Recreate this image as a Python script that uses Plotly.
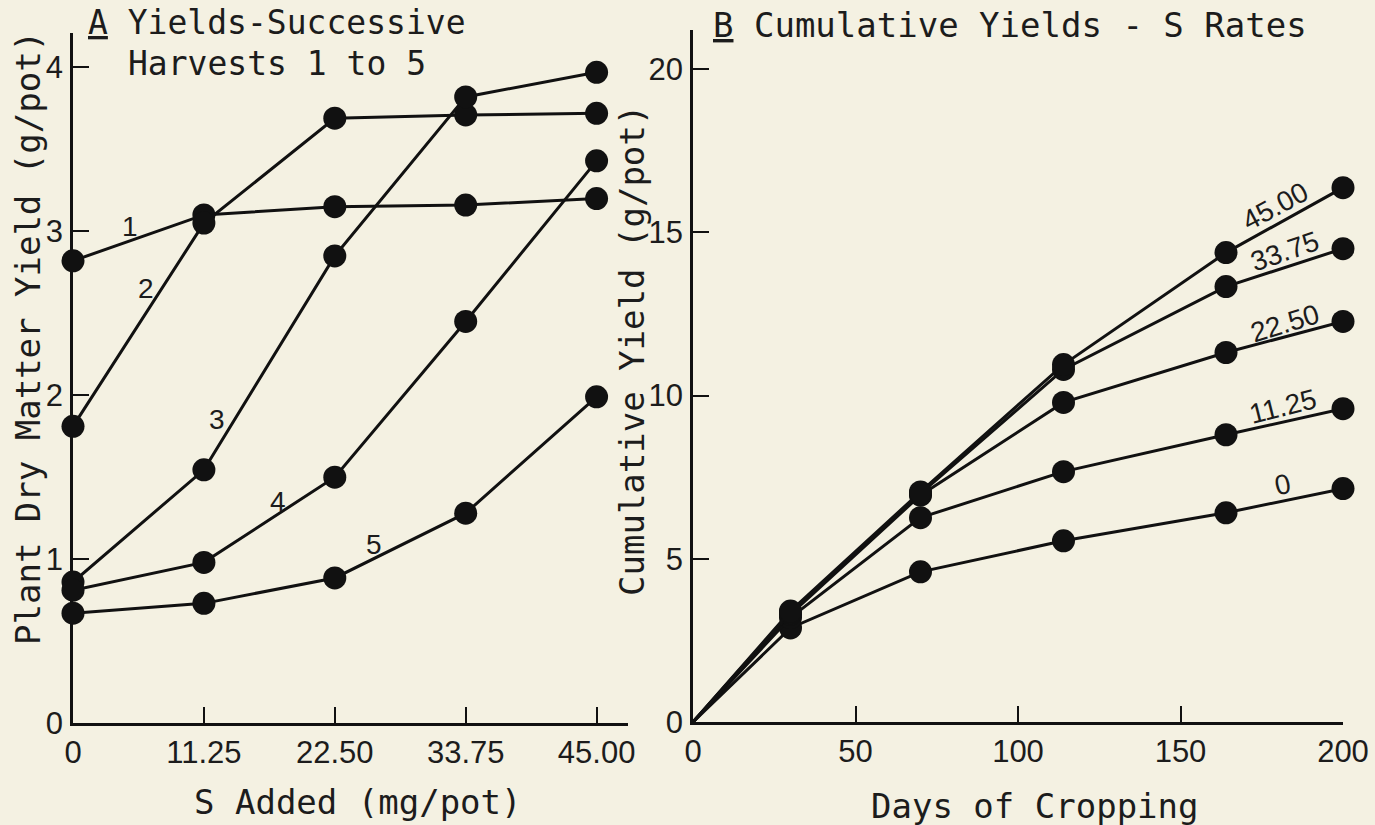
import plotly.graph_objects as go

# ---------------- data ----------------
s_added = [0, 11.25, 22.50, 33.75, 45.00]
harvest_names = ["1", "2", "3", "4", "5"]
harvest_1 = [2.82, 3.10, 3.15, 3.16, 3.20]
harvest_2 = [1.81, 3.05, 3.69, 3.71, 3.72]
harvest_3 = [0.86, 1.545, 2.85, 3.82, 3.97]
harvest_4 = [0.81, 0.98, 1.50, 2.45, 3.43]
harvest_5 = [0.67, 0.73, 0.885, 1.28, 1.99]
harvest_label_x = [4.9, 6.3, 12.4, 17.6, 25.9]
harvest_label_y = [3.03, 2.65, 1.85, 1.35, 1.09]

days = [0, 30, 70, 114, 164, 200]
rate_names = ["0", "11.25", "22.50", "33.75", "45.00"]
cum_0 = [0, 2.88, 4.60, 5.55, 6.41, 7.15]
cum_1125 = [0, 3.20, 6.26, 7.67, 8.80, 9.60]
cum_2250 = [0, 3.30, 6.95, 9.79, 11.32, 12.27]
cum_3375 = [0, 3.35, 7.00, 10.80, 13.34, 14.50]
cum_4500 = [0, 3.40, 7.05, 10.95, 14.38, 16.37]
rate_label_x = [181.5, 181.5, 182, 182, 179]
rate_label_y = [7.27, 9.66, 12.2, 14.4, 15.8]
rate_label_angle = [-12, -14, -17, -19, -28]

xticks_a = [0, 11.25, 22.5, 33.75, 45]
xticklabels_a = ["0", "11.25", "22.50", "33.75", "45.00"]
yticks_a = [0, 1, 2, 3, 4]
xticks_b = [0, 50, 100, 150, 200]
yticks_b = [0, 5, 10, 15, 20]

# ---------------- style ----------------
W, H = 1375, 825
BG = "#f4f1e2"
INK = "#111111"
TXT = "#1c1c1c"
MONO = "DejaVu Sans Mono, monospace"
SANS = "Liberation Sans, Arial, sans-serif"

fig = go.Figure()

harvests = [harvest_1, harvest_2, harvest_3, harvest_4, harvest_5]
for name, ys in zip(harvest_names, harvests):
    fig.add_trace(go.Scatter(
        x=s_added, y=ys, mode="lines+markers", name="Harvest " + name,
        line=dict(color=INK, width=3),
        marker=dict(color=INK, size=23, opacity=1, line=dict(width=0)),
        cliponaxis=False, xaxis="x", yaxis="y", showlegend=False))

rates = [cum_0, cum_1125, cum_2250, cum_3375, cum_4500]
for name, ys in zip(rate_names, rates):
    fig.add_trace(go.Scatter(
        x=days, y=ys, mode="lines+markers", name="S " + name,
        line=dict(color=INK, width=3),
        marker=dict(color=INK, size=[0] + [23] * (len(days) - 1), sizemode="diameter",
                    opacity=1, line=dict(width=0, color=INK)),
        cliponaxis=False, xaxis="x2", yaxis="y2", showlegend=False))

def px_x(p):
    return p / W

def px_y(p):
    return 1 - p / H

axis_common = dict(
    showline=True, linecolor=INK, linewidth=2.5,
    ticks="inside", ticklen=16, tickwidth=2, tickcolor=INK,
    showgrid=False, zeroline=False, automargin=False,
    tickfont=dict(family=SANS, size=31, color=TXT),
)

fig.update_layout(
    width=W, height=H,
    margin=dict(l=0, r=0, t=0, b=0, pad=0),
    paper_bgcolor=BG, plot_bgcolor=BG,
    xaxis=dict(domain=[px_x(73), px_x(628)], range=[0, 47.7], anchor="y",
               tickvals=xticks_a, ticktext=xticklabels_a, ticklabelstandoff=0,
               **axis_common),
    yaxis=dict(domain=[px_y(723), px_y(33)], range=[0, 4.21], anchor="x",
               tickvals=yticks_a, ticklabelstandoff=1, **axis_common),
    xaxis2=dict(domain=[px_x(693), px_x(1343)], range=[0, 200], anchor="y2",
                tickvals=xticks_b, ticklabelstandoff=0, **axis_common),
    yaxis2=dict(domain=[px_y(722), px_y(30)], range=[0, 21.2], anchor="x2",
                tickvals=yticks_b, ticklabelstandoff=1, **axis_common),
)

ann = []
# curve labels panel A
for name, x, y in zip(harvest_names, harvest_label_x, harvest_label_y):
    ann.append(dict(x=x, y=y, xref="x", yref="y", text=name, showarrow=False,
                    xanchor="center", yanchor="middle",
                    font=dict(family=SANS, size=28, color=TXT)))
# curve labels panel B
for name, x, y, a in zip(rate_names, rate_label_x, rate_label_y, rate_label_angle):
    ann.append(dict(x=x, y=y, xref="x2", yref="y2", text=name, showarrow=False,
                    xanchor="center", yanchor="middle",
                    textangle=a, font=dict(family=SANS, size=28, color=TXT)))

title_font = dict(family=MONO, size=34, color=TXT)
title_a_font = dict(family=MONO, size=33, color=TXT)
ann += [
    dict(x=px_x(86), y=px_y(23), xref="paper", yref="paper", xanchor="left",
         yanchor="middle", showarrow=False, text="<u>A</u> Yields-Successive",
         font=title_a_font),
    dict(x=px_x(126), y=px_y(63), xref="paper", yref="paper", xanchor="left",
         yanchor="middle", showarrow=False, text="Harvests 1 to 5",
         font=title_a_font),
    dict(x=px_x(711), y=px_y(25), xref="paper", yref="paper", xanchor="left",
         yanchor="middle", showarrow=False,
         text="<u>B</u> Cumulative Yields - S Rates", font=title_font),
    dict(x=px_x(358), y=px_y(802), xref="paper", yref="paper", showarrow=False,
         xanchor="center", yanchor="middle",
         text="S Added (mg/pot)", font=title_font),
    dict(x=px_x(1035), y=px_y(806), xref="paper", yref="paper", showarrow=False,
         xanchor="center", yanchor="middle",
         text="Days of Cropping", font=title_font),
    dict(x=px_x(28), y=px_y(338), xref="paper", yref="paper", showarrow=False,
         xanchor="center", yanchor="middle",
         textangle=-90, text="Plant Dry Matter Yield (g/pot)", font=title_font),
    dict(x=px_x(632), y=px_y(351), xref="paper", yref="paper", showarrow=False,
         xanchor="center", yanchor="middle",
         textangle=-90, text="Cumulative Yield (g/pot)", font=title_font),
]
fig.update_layout(annotations=ann)

fig.write_html("out.html")
